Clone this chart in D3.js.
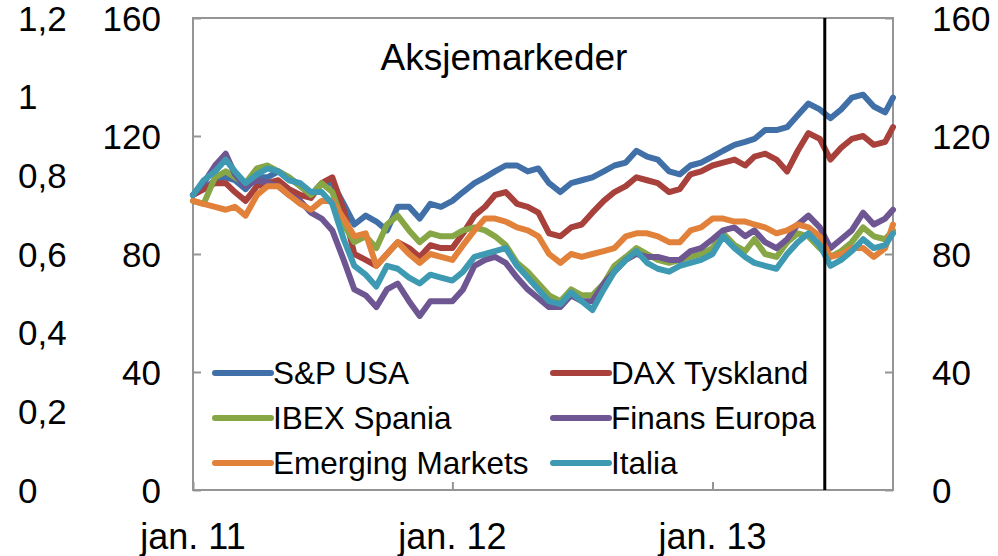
<!DOCTYPE html>
<html>
<head>
<meta charset="utf-8">
<script src="https://cdn.jsdelivr.net/npm/d3@7"></script>
<style>
  body { margin: 0; background: #fff; }
  svg text { font-family: "Liberation Sans", Arial, sans-serif; fill: #000; }
</style>
</head>
<body>
<div id="chart"></div>
<script>
//-- Data: half-monthly readings, index 100 at start
var dates = [
  "2011-01-01","2011-01-16","2011-02-01","2011-02-16","2011-03-01","2011-03-16","2011-04-01","2011-04-16",
  "2011-05-01","2011-05-16","2011-06-01","2011-06-16","2011-07-01","2011-07-16","2011-08-01","2011-08-16",
  "2011-09-01","2011-09-16","2011-10-01","2011-10-16","2011-11-01","2011-11-16","2011-12-01","2011-12-16",
  "2012-01-01","2012-01-16","2012-02-01","2012-02-16","2012-03-01","2012-03-16","2012-04-01","2012-04-16",
  "2012-05-01","2012-05-16","2012-06-01","2012-06-16","2012-07-01","2012-07-16","2012-08-01","2012-08-16",
  "2012-09-01","2012-09-16","2012-10-01","2012-10-16","2012-11-01","2012-11-16","2012-12-01","2012-12-16",
  "2013-01-01","2013-01-16","2013-02-01","2013-02-16","2013-03-01","2013-03-16","2013-04-01","2013-04-16",
  "2013-05-01","2013-05-16","2013-06-01","2013-06-16","2013-07-01","2013-07-16","2013-08-01","2013-08-16",
  "2013-09-01","2013-09-12"
];

var sp_usa = [100,102,105,106,105,102,106,106,108,106,103,100,104,104,97,90,
  93,91,88,96,96,92,97,96,98,101,104,106,108,110,110,108,
  109,104,101,104,105,106,108,110,111,115,113,112,108,107,110,111,
  113,115,117,118,119,122,122,123,127,131,129,126,129,133,134,130,128,133];
var dax = [100,102,104,104,101,98,103,104,105,102,100,99,104,106,95,80,
  78,76,80,84,82,79,83,82,82,87,93,96,100,101,97,96,
  94,87,86,89,90,94,98,101,103,106,105,104,101,102,107,108,
  110,111,112,110,113,114,112,108,115,121,119,112,116,119,120,117,118,123];
var ibex = [98,97,106,108,106,104,109,110,108,106,103,100,104,101,90,84,
  86,82,90,93,88,84,87,86,86,88,89,88,86,83,77,74,
  70,66,64,68,66,66,70,76,79,82,80,78,77,78,79,80,
  82,87,83,81,85,80,79,84,87,86,82,79,81,84,89,86,85,88];
var finans = [100,104,110,114,107,103,105,104,103,100,98,94,92,88,78,68,
  66,62,68,70,64,59,64,64,64,68,76,78,79,77,72,68,
  65,62,62,66,64,64,70,74,78,80,79,79,78,78,81,82,
  85,88,89,86,88,84,82,85,90,93,89,82,85,88,94,90,92,95];
var emerging = [98,97,96,95,96,93,100,103,103,100,97,95,98,98,92,86,
  87,76,80,84,80,77,80,79,78,83,88,92,92,91,89,88,
  86,80,77,80,79,80,81,82,86,87,87,86,84,84,88,89,
  92,92,91,91,90,89,87,88,90,89,86,79,80,82,82,79,82,90];
var italia = [100,105,108,112,108,104,107,109,108,105,104,101,101,97,85,76,
  73,69,76,75,72,70,73,72,71,74,79,80,81,82,76,72,
  68,64,63,67,64,61,68,74,78,81,77,75,74,76,77,78,
  80,86,82,79,77,76,75,80,84,87,83,76,78,81,85,82,83,87];

var series_names = ["S&P USA", "DAX Tyskland", "IBEX Spania", "Finans Europa", "Emerging Markets", "Italia"];
var series_values = [sp_usa, dax, ibex, finans, emerging, italia];
var series_colors = ["#4170A8", "#A8403C", "#87A646", "#6D5692", "#E2813A", "#3E9AB2"];

var left_ticks = [0, 40, 80, 120, 160];
var outer_ticks = [0, 0.2, 0.4, 0.6, 0.8, 1, 1.2];
var x_ticks = ["2011-01-01", "2012-01-01", "2013-01-01"];
var x_ticklabels = ["jan. 11", "jan. 12", "jan. 13"];
var marker_date = "2013-06-08";
var title = "Aksjemarkeder";

//-- Canvas
var tot_width = 998, tot_height = 556;
var margin = {left: 193, right: 105, top: 18, bottom: 66};
var width = tot_width - margin.left - margin.right;
var height = tot_height - margin.top - margin.bottom;

var svg = d3.select("#chart")
  .append("svg")
    .attr("width", tot_width)
    .attr("height", tot_height)
  .append("g")
    .attr("transform", "translate(" + margin.left + "," + margin.top + ")");

var parse = d3.timeParse("%Y-%m-%d");
var x = d3.scaleTime()
  .domain([parse(dates[0]), parse(dates[dates.length-1])])
  .range([0, width]);
var y = d3.scaleLinear().domain([0, 160]).range([height, 0]);
var y_outer = d3.scaleLinear().domain([0, 1.2]).range([height, 0]);

var frame_color = "#959595";
var fs = 35;

//-- Frame
svg.append("rect")
  .attr("width", width)
  .attr("height", height)
  .attr("fill", "none")
  .attr("stroke", frame_color)
  .attr("stroke-width", 2);

//-- Left axis (inward ticks)
var y_axis_left = d3.axisRight(y).tickValues(left_ticks).tickSize(8).tickFormat("");
svg.append("g").call(y_axis_left)
  .call(g => g.select(".domain").remove())
  .selectAll("line").attr("stroke", frame_color).attr("stroke-width", 2);

svg.append("g").selectAll("text")
  .data(left_ticks)
  .enter()
  .append("text")
    .attr("x", -32)
    .attr("y", function (d) {return y(d);})
    .attr("text-anchor", "end")
    .attr("dominant-baseline", "central")
    .style("font-size", fs + "px")
    .text(function (d) {return d;});

//-- Right axis
var y_axis_right = d3.axisLeft(y).tickValues(left_ticks).tickSize(8).tickFormat("");
svg.append("g").attr("transform", "translate(" + width + ",0)").call(y_axis_right)
  .call(g => g.select(".domain").remove())
  .selectAll("line").attr("stroke", frame_color).attr("stroke-width", 2);

svg.append("g").selectAll("text")
  .data(left_ticks)
  .enter()
  .append("text")
    .attr("x", width + 39)
    .attr("y", function (d) {return y(d);})
    .attr("text-anchor", "start")
    .attr("dominant-baseline", "central")
    .style("font-size", fs + "px")
    .text(function (d) {return d;});

//-- Outer axis (labels only)
var fmt = d3.formatLocale({decimal: ",", thousands: " ", grouping: [3], currency: ["", ""]}).format("~g");
svg.append("g").selectAll("text")
  .data(outer_ticks)
  .enter()
  .append("text")
    .attr("x", -margin.left + 18)
    .attr("y", function (d) {return y_outer(d);})
    .attr("text-anchor", "start")
    .attr("dominant-baseline", "central")
    .style("font-size", fs + "px")
    .text(function (d) {return fmt(d);});

//-- X axis
var x_axis = d3.axisTop(x).tickValues(x_ticks.map(parse)).tickSize(8).tickFormat("");
svg.append("g").attr("transform", "translate(0," + height + ")").call(x_axis)
  .call(g => g.select(".domain").remove())
  .selectAll("line").attr("stroke", frame_color).attr("stroke-width", 2);

svg.append("g").selectAll("text")
  .data(x_ticks)
  .enter()
  .append("text")
    .attr("x", function (d) {return x(parse(d));})
    .attr("y", height + 46)
    .attr("text-anchor", "middle")
    .attr("dominant-baseline", "central")
    .style("font-size", "36px")
    .text(function (d, i) {return x_ticklabels[i];});

//-- Lines
var line = d3.line()
  .x(function (d, i) {return x(parse(dates[i]));})
  .y(function (d) {return y(d);});

svg.selectAll(".series")
  .data(series_values)
  .enter()
  .append("path")
    .attr("class", "series")
    .attr("d", function (d) {return line(d);})
    .attr("fill", "none")
    .attr("stroke", function (d, i) {return series_colors[i];})
    .attr("stroke-width", 6)
    .attr("stroke-linejoin", "round")
    .attr("stroke-linecap", "round");

//-- Vertical marker
svg.append("line")
  .attr("x1", x(parse(marker_date)))
  .attr("x2", x(parse(marker_date)))
  .attr("y1", 0)
  .attr("y2", height)
  .attr("stroke", "#000")
  .attr("stroke-width", 3);

//-- Title
svg.append("text")
  .attr("x", 311)
  .attr("y", 39)
  .attr("text-anchor", "middle")
  .attr("dominant-baseline", "central")
  .style("font-size", "37px")
  .text(title);

//-- Legend
var legend_pos = {x: 22, y: 355, dx: 338, dy: 45, len: 56};
var legend = svg.selectAll(".legend")
  .data(series_names)
  .enter()
  .append("g")
    .attr("class", "legend")
    .attr("transform", function (d, i) {
      return "translate(" + (legend_pos.x + (i % 2) * legend_pos.dx) + "," + (legend_pos.y + Math.floor(i / 2) * legend_pos.dy) + ")";
    });

legend.append("line")
  .attr("x1", 0)
  .attr("x2", legend_pos.len)
  .attr("stroke", function (d, i) {return series_colors[i];})
  .attr("stroke-width", 6)
  .attr("stroke-linecap", "round");

legend.append("text")
  .attr("x", legend_pos.len + 2)
  .attr("dominant-baseline", "central")
  .style("font-size", "31.5px")
  .text(function (d) {return d;});
</script>
</body>
</html>
